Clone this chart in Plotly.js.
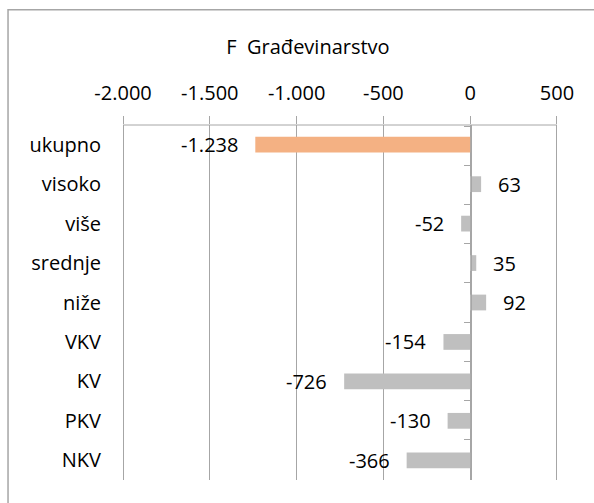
<!DOCTYPE html>
<html>
<head>
<meta charset="utf-8">
<script src="https://cdn.plot.ly/plotly-3.0.1.min.js"></script>
<style>html,body{margin:0;padding:0;background:#fff;}#chart{width:594px;height:503px;}</style>
</head>
<body>
<div id="chart"></div>
<script>
const categories = ['ukupno', 'visoko', 'više', 'srednje', 'niže', 'VKV', 'KV', 'PKV', 'NKV'];
const values = [-1238, 63, -52, 35, 92, -154, -726, -130, -366];
const tickVals = [-2000, -1500, -1000, -500, 0, 500];
const tickText = ['-2.000', '-1.500', '-1.000', '-500', '0', '500'];
const chartTitle = 'F \u00a0Građevinarstvo';

const ORANGE = '#F4B183';
const GRAY = '#BFBFBF';
const LINE = '#A6A6A6';
const FONT = 'Open Sans, sans-serif';
const FS = 20;

function fmt(v) {
  const s = String(Math.abs(v)).replace(/\B(?=(\d{3})+(?!\d))/g, '.');
  return (v < 0 ? '-' : '') + s;
}

const colors = categories.map((c, i) => i === 0 ? ORANGE : GRAY);

const traces = [
  {
    type: 'bar', orientation: 'h',
    x: values, y: categories,
    marker: {color: colors, line: {width: 0}},
    hoverinfo: 'skip', showlegend: false
  },
  {
    type: 'scatter', mode: 'markers',
    x: categories.map(() => 0), y: categories,
    yaxis: 'y2', marker: {opacity: 0, size: 1},
    hoverinfo: 'skip', showlegend: false
  }
];

const annotations = values.map((v, i) => ({
  x: v, y: categories[i], xref: 'x', yref: 'y',
  text: fmt(v), showarrow: false,
  xanchor: v < 0 ? 'right' : 'left',
  xshift: v < 0 ? -15 : 15,
  yanchor: 'middle',
  font: {family: FONT, size: FS, color: '#000'}
}));

const layout = {
  width: 594, height: 503,
  margin: {l: 122, r: 36, t: 125, b: 23, pad: 0},
  paper_bgcolor: '#fff', plot_bgcolor: '#fff',
  font: {family: FONT, size: FS, color: '#000'},
  title: {
    text: chartTitle, xref: 'container', yref: 'container',
    x: 0.5185, xanchor: 'center', y: 0.907, yanchor: 'middle',
    font: {family: FONT, size: FS, color: '#000'}
  },
  bargap: 0.6,
  xaxis: {
    range: [-2006, 506], side: 'top',
    tickmode: 'array', tickvals: tickVals, ticktext: tickText,
    showgrid: true, gridcolor: LINE, gridwidth: 1,
    showline: false,
    ticks: 'outside', ticklen: 8, tickcolor: LINE, tickwidth: 1,
    zeroline: false, fixedrange: true,
    tickfont: {family: FONT, size: FS, color: '#000'},
    ticklabelstandoff: 8
  },
  yaxis: {
    type: 'category', categoryorder: 'array', categoryarray: categories,
    autorange: 'reversed', showgrid: false, showline: false, zeroline: false,
    ticks: '', fixedrange: true,
    tickfont: {family: FONT, size: FS, color: '#000'},
    ticklabelstandoff: 20
  },
  yaxis2: {
    type: 'category', categoryorder: 'array', categoryarray: categories,
    autorange: 'reversed', overlaying: 'y', anchor: 'free', position: 0.8, side: 'left',
    showgrid: false, showline: true, linecolor: LINE, linewidth: 1, zeroline: false,
    ticks: 'outside', tickson: 'boundaries', ticklen: 7, tickcolor: LINE, tickwidth: 1,
    showticklabels: false, fixedrange: true
  },
  shapes: [
    {
      type: 'rect', xref: 'paper', yref: 'paper',
      x0: -0.2614, x1: 1.2, y0: -0.3, y1: 1.3243,
      line: {color: LINE, width: 1.5}, fillcolor: 'rgba(0,0,0,0)', layer: 'below'
    },
    {
      type: 'line', xref: 'x', yref: 'paper',
      x0: tickVals[0], x1: tickVals[tickVals.length - 1], y0: 1, y1: 1,
      line: {color: LINE, width: 1}, layer: 'below'
    }
  ],
  annotations: annotations
};

Plotly.newPlot('chart', traces, layout, {displayModeBar: false, staticPlot: true});
</script>
</body>
</html>
